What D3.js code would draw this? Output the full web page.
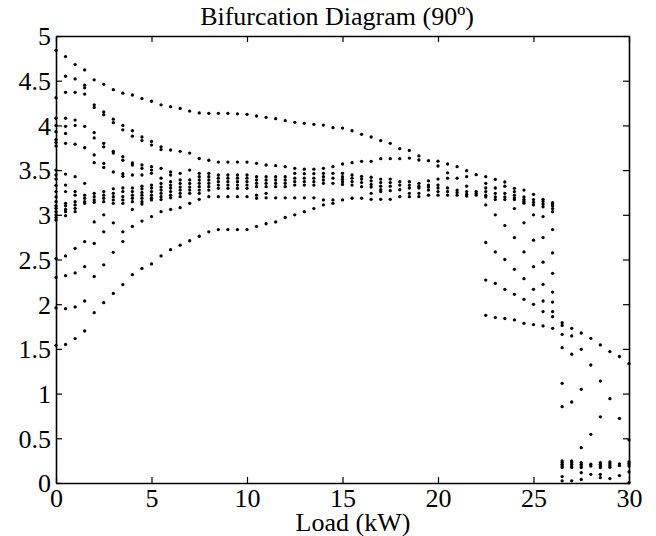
<!DOCTYPE html>
<html>
<head>
<meta charset="utf-8">
<script src="https://cdn.jsdelivr.net/npm/d3@7"></script>
<style>
  body { margin: 0; background: #fff; }
  svg text { font-family: "Liberation Serif", "Times New Roman", serif; fill: #000; }
</style>
</head>
<body>
<div id="chart"></div>
<script>
// load steps (kW) and the sampled values seen at each step
var loadSteps = [0,0.5,1,1.5,2,2.5,3,3.5,4,4.5,5,5.5,6,6.5,7,7.5,8,8.5,9,9.5,10,10.5,11,11.5,12,12.5,13,13.5,14,14.5,
  15,15.5,16,16.5,17,17.5,18,18.5,19,19.5,20,20.5,21,21.5,22,22.5,23,23.5,24,24.5,25,25.5,26,26.5,27,27.5,28,28.5,29,29.5,30];

var stepValues = [
  [4.84,4.31,4.08,4.00,3.93,3.84,3.81,3.77,3.50,3.445,3.40,3.33,3.26,3.20,3.147,3.10,3.072,3.035,3.00,2.97,2.942,2.51,2.30,1.96,1.54],
  [4.77,4.55,4.37,4.08,3.99,3.91,3.80,3.456,3.333,3.26,3.128,3.10,3.06,3.035,2.99,2.54,2.32,1.95,1.55],
  [4.68,4.52,4.37,4.06,4.00,3.79,3.426,3.26,3.22,3.147,3.11,3.072,3.035,2.625,2.35,1.97,1.615],
  [4.62,4.45,4.42,4.35,3.99,3.75,3.352,3.22,3.185,3.147,3.128,2.70,2.42,2.036,1.70],
  [4.51,4.23,4.20,3.92,3.86,3.67,3.583,3.24,3.203,3.166,3.14,2.92,2.68,2.31,1.905],
  [4.46,4.15,4.12,3.80,3.76,3.576,3.53,3.26,3.22,3.185,3.147,3.0,2.81,2.44,2.017],
  [4.40,4.07,4.03,3.71,3.69,3.48,3.29,3.24,3.203,3.166,3.128,2.91,2.58,2.121],
  [4.36,4.00,3.95,3.65,3.61,3.46,3.43,3.30,3.26,3.203,3.166,3.128,2.81,2.70,2.22],
  [4.34,3.94,3.88,3.58,3.557,3.445,3.30,3.26,3.22,3.185,3.147,3.06,2.87,2.33],
  [4.30,3.87,3.83,3.557,3.52,3.445,3.32,3.29,3.25,3.22,3.185,3.147,3.12,2.93,2.40],
  [4.27,3.82,3.78,3.538,3.50,3.464,3.333,3.30,3.26,3.22,3.185,3.166,2.98,2.45],
  [4.23,3.76,3.73,3.52,3.41,3.35,3.31,3.277,3.24,3.203,3.17,3.035,2.54],
  [4.21,3.725,3.48,3.445,3.37,3.333,3.30,3.26,3.22,3.19,3.06,2.61],
  [4.19,3.71,3.464,3.39,3.35,3.31,3.277,3.24,3.203,3.08,2.66],
  [4.16,3.69,3.50,3.39,3.35,3.31,3.277,3.24,3.128,2.71],
  [4.14,3.63,3.464,3.426,3.389,3.352,3.315,3.277,3.24,3.173,2.76],
  [4.135,3.61,3.464,3.426,3.389,3.352,3.315,3.277,3.203,2.81],
  [4.135,3.59,3.445,3.41,3.37,3.333,3.296,3.203,2.835],
  [4.135,3.59,3.445,3.41,3.37,3.333,3.296,3.203,2.835],
  [4.13,3.59,3.445,3.41,3.37,3.333,3.296,3.203,2.835],
  [4.124,3.59,3.445,3.41,3.37,3.333,3.296,3.203,2.835],
  [4.105,3.576,3.426,3.389,3.352,3.315,3.22,3.185,2.87],
  [4.09,3.557,3.426,3.389,3.352,3.315,3.24,3.19,2.90],
  [4.075,3.55,3.426,3.389,3.352,3.315,3.19,2.92],
  [4.053,3.538,3.426,3.389,3.352,3.315,3.19,2.97],
  [4.034,3.52,3.464,3.41,3.37,3.333,3.19,3.0],
  [4.023,3.51,3.46,3.41,3.37,3.333,3.19,3.035],
  [4.012,3.51,3.46,3.41,3.37,3.333,3.19,3.07],
  [4.004,3.52,3.464,3.426,3.389,3.352,3.166,3.11],
  [3.975,3.538,3.464,3.41,3.352,3.166,3.128],
  [3.97,3.568,3.464,3.426,3.397,3.37,3.34,3.166],
  [3.94,3.583,3.445,3.41,3.37,3.333,3.185],
  [3.90,3.598,3.43,3.40,3.36,3.315,3.185],
  [3.87,3.598,3.42,3.38,3.34,3.31,3.24,3.173],
  [3.83,3.628,3.40,3.36,3.32,3.28,3.26,3.173],
  [3.80,3.628,3.40,3.36,3.32,3.27,3.173],
  [3.74,3.628,3.37,3.333,3.28,3.203],
  [3.72,3.635,3.37,3.333,3.30,3.24,3.203],
  [3.658,3.613,3.352,3.32,3.30,3.24,3.203],
  [3.605,3.38,3.333,3.31,3.277,3.22],
  [3.60,3.546,3.40,3.333,3.30,3.26,3.22],
  [3.568,3.47,3.41,3.30,3.26,3.22],
  [3.538,3.41,3.277,3.25,3.22],
  [3.494,3.426,3.32,3.26,3.23,3.21],
  [3.449,3.26,3.24,3.22],
  [3.427,3.352,3.30,3.26,3.22,3.20,3.11,2.69,2.27,1.876],
  [3.397,3.30,3.24,3.20,3.17,3.0,2.585,2.233,1.85],
  [3.367,3.32,3.24,3.20,3.17,2.88,2.50,2.166,1.84],
  [3.296,3.26,3.22,3.19,3.17,3.07,2.745,2.39,2.11,1.824],
  [3.277,3.20,3.17,3.15,3.13,2.91,2.585,2.286,2.054,1.786],
  [3.229,3.17,3.14,3.11,3.0,2.716,2.42,2.166,1.999,1.772],
  [3.173,3.15,3.12,3.09,2.98,2.745,2.47,2.222,2.036,1.917,1.757],
  [3.136,3.12,3.10,3.07,3.035,2.835,2.574,2.345,2.136,2.024,1.917,1.86,1.73],
  [1.793,1.763,1.663,1.514,1.115,0.854,0.246,0.228,0.209,0.19,0.172,0.072,0.024],
  [1.73,1.645,1.44,0.906,0.246,0.228,0.209,0.19,0.172,0.024],
  [1.678,1.495,1.048,0.395,0.228,0.209,0.19,0.172,0.116,0.04],
  [1.618,1.32,0.545,0.21,0.19,0.097],
  [1.544,1.14,0.74,0.228,0.209,0.19,0.172,0.097,0.06],
  [1.47,0.943,0.235,0.215,0.195,0.175,0.049],
  [1.415,0.722,0.215,0.195,0.083],
  [1.335,0.482,0.235,0.215,0.19,0.124,0.003]
];

var xTicks = [0,5,10,15,20,25,30];
var yTicks = [0,0.5,1,1.5,2,2.5,3,3.5,4,4.5,5];
var titleText = "Bifurcation Diagram (90º)";
var xLabelText = "Load (kW)";

var width = 656, height = 536;
var plot = {left:56, right:629, top:36, bottom:483};
var serif = "'Liberation Serif', 'Times New Roman', serif";

var svg = d3.select("#chart").append("svg").attr("width",width).attr("height",height);

var x = d3.scaleLinear().domain([0,30]).range([plot.left, plot.right]);
var y = d3.scaleLinear().domain([0,5]).range([plot.bottom, plot.top]);

//flatten to points
var pts = [];
for(var i=0; i<loadSteps.length; i++){
  for(var j=0; j<stepValues[i].length; j++){
    pts.push({load:loadSteps[i], v:stepValues[i][j]});
  }
}

svg.append("g").selectAll("circle").data(pts).enter().append("circle")
  .attr("cx", function(d){return x(d.load)})
  .attr("cy", function(d){return y(d.v)})
  .attr("r", 1.65)
  .attr("fill", "#000");

//axes, ticks inward on all four sides
var fmt = function(d){return String(d)};
var gb = svg.append("g").attr("transform","translate(0,"+plot.bottom+")")
  .call(d3.axisBottom(x).tickValues(xTicks).tickSizeInner(-6).tickSizeOuter(0).tickPadding(6).tickFormat(fmt));
var gt = svg.append("g").attr("transform","translate(0,"+plot.top+")")
  .call(d3.axisTop(x).tickValues(xTicks).tickSizeInner(-6).tickSizeOuter(0).tickFormat(""));
var gl = svg.append("g").attr("transform","translate("+plot.left+",0)")
  .call(d3.axisLeft(y).tickValues(yTicks).tickSizeInner(-6).tickSizeOuter(0).tickPadding(5).tickFormat(fmt));
var gr = svg.append("g").attr("transform","translate("+plot.right+",0)")
  .call(d3.axisRight(y).tickValues(yTicks).tickSizeInner(-6).tickSizeOuter(0).tickFormat(""));

[gb,gt,gl,gr].forEach(function(g){
  g.attr("font-family", null).attr("font-size", null);
  g.select(".domain").attr("stroke","#000").attr("stroke-width",1.6);
  g.selectAll(".tick line").attr("stroke","#000").attr("stroke-width",1.2);
  g.selectAll("text").style("font-family",serif).style("font-size","26px").attr("fill","#000");
});
gb.selectAll("text").attr("dy","0.71em");
gl.selectAll("text").attr("dy","0.34em");

svg.append("text").attr("x",337).attr("y",25).attr("text-anchor","middle")
  .style("font-family",serif).style("font-size","26px").text(titleText);
svg.append("text").attr("x",353).attr("y",531).attr("text-anchor","middle")
  .style("font-family",serif).style("font-size","26px").text(xLabelText);
</script>
</body>
</html>
